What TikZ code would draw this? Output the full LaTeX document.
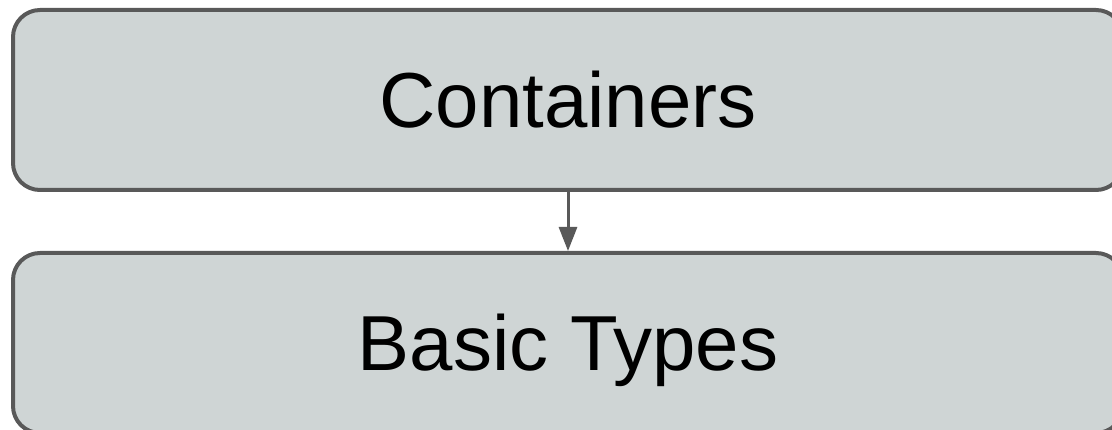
\documentclass[tikz,border=0pt]{standalone}
\usepackage{fontspec}
\setmainfont{Liberation Sans}
\usetikzlibrary{arrows.meta}

\definecolor{boxfill}{RGB}{207,213,213}
\definecolor{boxline}{RGB}{89,89,89}

\tikzset{
  layer/.style={draw=boxline, fill=boxfill, line width=4pt, rounded corners=27pt,
    minimum width=1110pt, minimum height=180pt, inner sep=0pt,
    text height=56pt, text depth=0pt, font=\fontsize{78}{90}\selectfont},
  uses/.style={draw=boxline, line width=3pt, -{Triangle[width=18pt,length=24pt]}}
}

\begin{document}
\begin{tikzpicture}[x=1pt, y=-1pt]
  \useasboundingbox (0,0) rectangle (1112,430);

  \node [layer] (containers) at (568,100) {Containers};
  \node [layer] (basic) at (568,343) {Basic Types};

  % containers are built on the basic types
  \draw [uses] (containers) -- (basic);
\end{tikzpicture}
\end{document}
